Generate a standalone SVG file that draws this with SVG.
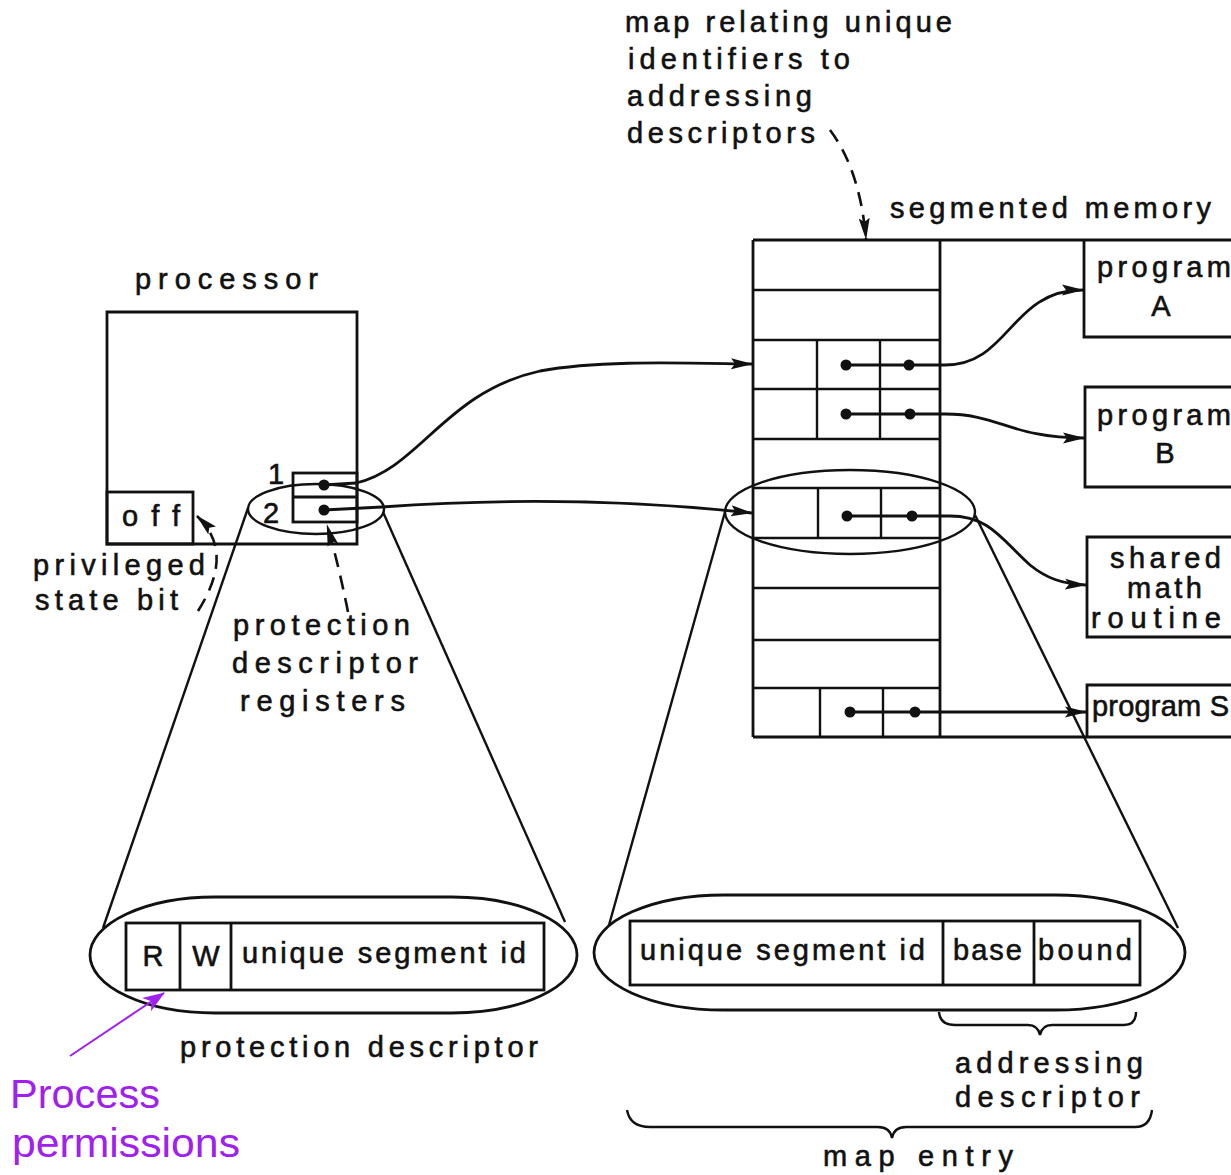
<svg xmlns="http://www.w3.org/2000/svg" width="1231" height="1175" viewBox="0 0 1231 1175">
  <style>
    .ln { fill: none; stroke: #111; stroke-width: 2.8; }
    .thin { fill: none; stroke: #111; stroke-width: 2.4; }
    .dash { fill: none; stroke: #111; stroke-width: 2.6; stroke-dasharray: 14 9; }
    .t { font-family: "Liberation Sans", Arial, sans-serif; font-size: 29px; fill: #111; stroke: #111; stroke-width: 0.6; }
    .dot { fill: #111; }
    .note { font-family: "Liberation Sans", Arial, sans-serif; font-size: 41px; fill: #a020f0; }
  </style>
  <defs>
    <marker id="arr" viewBox="0 0 22 12" markerWidth="22" markerHeight="12" refX="21" refY="6" orient="auto" markerUnits="userSpaceOnUse">
      <path d="M0,0.5 L22,6 L0,11.5 L4,6 z" fill="#111"/>
    </marker>
    <marker id="arrP" viewBox="0 0 22 16" markerWidth="22" markerHeight="16" refX="21" refY="8" orient="auto" markerUnits="userSpaceOnUse">
      <path d="M0,0 L22,8 L0,16 L6,8 z" fill="#a020f0"/>
    </marker>
  </defs>

  <rect width="1231" height="1175" fill="#fff"/>

  <!-- annotation at the top -->
  <g id="map-label">
    <text class="t" x="625" y="32" textLength="327" lengthAdjust="spacing">map relating unique</text>
    <text class="t" x="628" y="69" textLength="222" lengthAdjust="spacing">identifiers to</text>
    <text class="t" x="627" y="106" textLength="185" lengthAdjust="spacing">addressing</text>
    <text class="t" x="627" y="143" textLength="188" lengthAdjust="spacing">descriptors</text>
  </g>

  <!-- processor with privileged state bit and descriptor registers -->
  <g id="processor">
    <text class="t" x="135" y="289" textLength="183" lengthAdjust="spacing">processor</text>
    <path class="ln" d="M107,312 H357 V544 H107 Z"/>
    <rect class="ln" x="107" y="492" width="86" height="52"/>
    <text class="t" x="122" y="526" textLength="58" lengthAdjust="spacing">off</text>
    <rect class="ln" x="293" y="473" width="64" height="49"/>
    <line class="ln" x1="293" y1="497" x2="357" y2="497"/>
    <text class="t" x="268" y="484" font-size="23">1</text>
    <text class="t" x="263" y="523" font-size="25">2</text>
    <circle class="dot" cx="324" cy="485" r="5.5"/>
    <circle class="dot" cx="324" cy="510" r="5.5"/>
    <ellipse class="thin" cx="316" cy="509" rx="68" ry="25"/>
  </g>

  <!-- labels pointing into the processor -->
  <g id="processor-labels">
    <text class="t" x="33" y="575" textLength="172" lengthAdjust="spacing">privileged</text>
    <text class="t" x="35" y="610" textLength="143" lengthAdjust="spacing">state bit</text>
    <text class="t" x="233" y="635" textLength="177" lengthAdjust="spacing">protection</text>
    <text class="t" x="232" y="673" textLength="186" lengthAdjust="spacing">descriptor</text>
    <text class="t" x="240" y="711" textLength="165" lengthAdjust="spacing">registers</text>
  </g>

  <!-- segmented memory map table -->
  <g id="memory-map">
    <text class="t" x="890" y="218" textLength="321" lengthAdjust="spacing">segmented memory</text>
    <line class="ln" x1="753" y1="240" x2="1240" y2="240"/>
    <line class="ln" x1="753" y1="737" x2="1240" y2="737"/>
    <line class="ln" x1="753" y1="240" x2="753" y2="737"/>
    <line class="ln" x1="940" y1="240" x2="940" y2="737"/>
    <g class="thin">
      <line x1="753" y1="290" x2="940" y2="290"/>
      <line x1="753" y1="340" x2="940" y2="340"/>
      <line x1="753" y1="389" x2="940" y2="389"/>
      <line x1="753" y1="439" x2="940" y2="439"/>
      <line x1="753" y1="488" x2="940" y2="488"/>
      <line x1="753" y1="538" x2="940" y2="538"/>
      <line x1="753" y1="588" x2="940" y2="588"/>
      <line x1="753" y1="640" x2="940" y2="640"/>
      <line x1="753" y1="688" x2="940" y2="688"/>
      <line x1="817" y1="340" x2="817" y2="439"/>
      <line x1="880" y1="340" x2="880" y2="439"/>
      <line x1="818" y1="488" x2="818" y2="538"/>
      <line x1="881" y1="488" x2="881" y2="538"/>
      <line x1="820" y1="688" x2="820" y2="737"/>
      <line x1="883" y1="688" x2="883" y2="737"/>
    </g>
    <circle class="dot" cx="846" cy="365" r="5.5"/>
    <circle class="dot" cx="909" cy="365" r="5.5"/>
    <circle class="dot" cx="846" cy="414" r="5.5"/>
    <circle class="dot" cx="910" cy="414" r="5.5"/>
    <circle class="dot" cx="847" cy="516" r="5.5"/>
    <circle class="dot" cx="912" cy="516" r="5.5"/>
    <circle class="dot" cx="850" cy="712" r="5.5"/>
    <circle class="dot" cx="915" cy="712" r="5.5"/>
    <ellipse class="thin" cx="850" cy="512" rx="125" ry="42"/>
  </g>

  <!-- segments held in memory -->
  <g id="program-a">
    <path class="ln" d="M1240,337 H1084 V240"/>
    <text class="t" x="1097" y="277" textLength="134" lengthAdjust="spacing">program</text>
    <text class="t" x="1161" y="316" text-anchor="middle">A</text>
  </g>
  <g id="program-b">
    <path class="ln" d="M1240,387 H1085 V487 H1240"/>
    <text class="t" x="1097" y="425" textLength="134" lengthAdjust="spacing">program</text>
    <text class="t" x="1165" y="463" text-anchor="middle">B</text>
  </g>
  <g id="shared-math">
    <path class="ln" d="M1240,537 H1087 V637 H1240"/>
    <text class="t" x="1110" y="568" textLength="111" lengthAdjust="spacing">shared</text>
    <text class="t" x="1127" y="598" textLength="75" lengthAdjust="spacing">math</text>
    <text class="t" x="1091" y="628" textLength="130" lengthAdjust="spacing">routine</text>
  </g>
  <g id="program-s">
    <path class="ln" d="M1240,685 H1087 V737"/>
    <text class="t" x="1092" y="716" textLength="137" lengthAdjust="spacing">program S</text>
  </g>

  <!-- protection descriptor, enlarged -->
  <g id="protection-descriptor">
    <rect class="ln" x="90" y="897" width="487" height="116" rx="125" ry="58"/>
    <rect class="ln" x="126" y="923" width="418" height="67"/>
    <line class="ln" x1="180" y1="923" x2="180" y2="990"/>
    <line class="ln" x1="231" y1="923" x2="231" y2="990"/>
    <text class="t" x="153" y="966" text-anchor="middle">R</text>
    <text class="t" x="206" y="966" text-anchor="middle">W</text>
    <text class="t" x="242" y="963" textLength="284" lengthAdjust="spacing">unique segment id</text>
    <text class="t" x="180" y="1057" textLength="358" lengthAdjust="spacing">protection descriptor</text>
  </g>

  <!-- map entry, enlarged -->
  <g id="map-entry">
    <rect class="ln" x="594" y="895" width="591" height="115" rx="130" ry="57.5"/>
    <rect class="ln" x="630" y="921" width="510" height="64"/>
    <line class="ln" x1="943" y1="921" x2="943" y2="985"/>
    <line class="ln" x1="1034" y1="921" x2="1034" y2="985"/>
    <text class="t" x="640" y="960" textLength="285" lengthAdjust="spacing">unique segment id</text>
    <text class="t" x="953" y="960" textLength="69" lengthAdjust="spacing">base</text>
    <text class="t" x="1038" y="960" textLength="94" lengthAdjust="spacing">bound</text>
    <path class="thin" d="M939,1012 Q940,1025 955,1025 H1028 Q1038,1025 1040,1035 Q1042,1025 1052,1025 H1124 Q1136,1025 1136,1012"/>
    <text class="t" x="955" y="1073" textLength="188" lengthAdjust="spacing">addressing</text>
    <text class="t" x="955" y="1107" textLength="185" lengthAdjust="spacing">descriptor</text>
    <path class="thin" d="M627,1110 Q630,1127 650,1127 H878 Q890,1127 892,1138 Q894,1127 906,1127 H1135 Q1150,1127 1152,1110"/>
    <text class="t" x="823" y="1166" textLength="190" lengthAdjust="spacing">map entry</text>
  </g>

  <!-- connectors -->
  <g id="connectors">
    <!-- descriptor register 1 to its map entry -->
    <path class="ln" d="M324,485 L356,483 C420,468 445,392 540,371 C600,360 680,363 752,364" marker-end="url(#arr)"/>
    <!-- descriptor register 2 to its map entry -->
    <path class="ln" d="M324,510 L382,507 C520,497 650,502 752,513" marker-end="url(#arr)"/>
    <!-- map entries to segments -->
    <path class="ln" d="M846,365 L945,365 C1010,365 1010,290 1083,290" marker-end="url(#arr)"/>
    <path class="ln" d="M846,414 L945,414 C1000,414 1010,438 1084,438" marker-end="url(#arr)"/>
    <path class="ln" d="M847,516 L950,516 C990,516 1002,540 1030,565 C1046,578 1062,584 1086,585" marker-end="url(#arr)"/>
    <path class="ln" d="M850,712 L1086,712" marker-end="url(#arr)"/>
    <!-- dashed label pointers -->
    <path class="dash" d="M830,130 Q860,170 866,239" marker-end="url(#arr)"/>
    <path class="dash" d="M198,611 C224,570 222,540 197,516" marker-end="url(#arr)"/>
    <path class="dash" d="M348,612 Q338,562 327,525" marker-end="url(#arr)"/>
    <!-- magnification cones -->
    <line class="thin" x1="248" y1="508" x2="103" y2="928"/>
    <line class="thin" x1="383" y1="512" x2="565" y2="922"/>
    <line class="thin" x1="725" y1="512" x2="609" y2="925"/>
    <line class="thin" x1="975" y1="515" x2="1178" y2="928"/>
  </g>

  <!-- handwritten note -->
  <g id="note">
    <line x1="70" y1="1056" x2="164" y2="993" stroke="#a020f0" stroke-width="2" marker-end="url(#arrP)"/>
    <text class="note" x="10" y="1108" textLength="150" lengthAdjust="spacingAndGlyphs">Process</text>
    <text class="note" x="12" y="1157" textLength="228" lengthAdjust="spacingAndGlyphs">permissions</text>
  </g>
</svg>
